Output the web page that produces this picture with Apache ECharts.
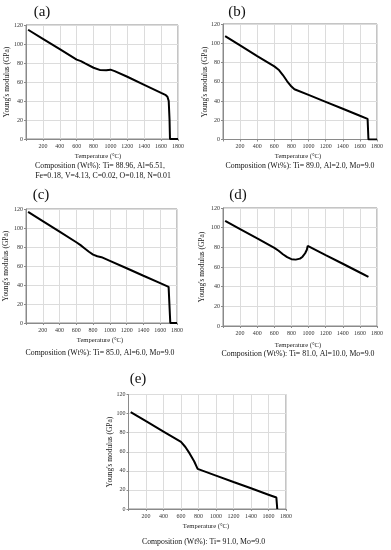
<!DOCTYPE html>
<html><head><meta charset="utf-8">
<script src="https://cdn.jsdelivr.net/npm/echarts@6/dist/echarts.min.js"></script>
<style>html,body{margin:0;padding:0;background:#fff}#c{width:391px;height:550px}</style>
</head><body><div id="c"></div>
<script>
// ---- data ----
const tempA = [25, 200, 400, 600, 650, 700, 800, 880, 950, 1000, 1050, 1200, 1400, 1600, 1650, 1675, 1690, 1700, 1705, 1800];
const modA  = [115, 105.5, 94.5, 83.5, 82, 79.5, 75, 72.5, 72.3, 73, 71.5, 65.5, 57, 48.5, 46.5, 44.5, 40, 20, 0, 0];

const tempB = [25, 200, 400, 600, 650, 700, 750, 800, 835, 1000, 1200, 1400, 1600, 1690, 1700, 1800];
const modB  = [107.5, 97.8, 86.7, 76, 72.5, 67, 60.5, 55, 52.2, 46.3, 39.1, 31.9, 24.7, 21.5, 0, 0];

const tempC = [25, 200, 400, 600, 650, 700, 750, 800, 850, 900, 1000, 1200, 1400, 1600, 1700, 1710, 1720, 1800];
const modC  = [117, 107.3, 96.2, 85, 82, 78.5, 75, 72, 70.3, 69.3, 65.4, 57.6, 49.7, 41.9, 38, 37, 0, 0];

const tempD = [25, 200, 400, 600, 650, 700, 750, 800, 850, 900, 930, 960, 980, 990, 1000, 1200, 1400, 1600, 1700];
const modD  = [107, 98.6, 89, 79.5, 76.5, 73, 70, 68, 67.5, 68.5, 70.5, 74, 77.5, 81.5, 81, 72.1, 63.3, 54.4, 50];

const tempE = [25, 200, 400, 600, 650, 700, 750, 790, 1000, 1200, 1400, 1600, 1690, 1700];
const modE  = [101.5, 92, 81.2, 70.3, 65, 58, 50, 42, 35, 28.3, 21.7, 15, 12, 0];

const panelLetters = ['(a)', '(b)', '(c)', '(d)', '(e)'];
const compositions = [
  ['Composition (Wt%): Ti= 88.96, Al=6.51,', 'Fe=0.18, V=4.13, C=0.02, O=0.18, N=0.01'],
  ['Composition (Wt%): Ti= 89.0, Al=2.0, Mo=9.0'],
  ['Composition (Wt%): Ti= 85.0, Al=6.0, Mo=9.0'],
  ['Composition (Wt%): Ti= 81.0, Al=10.0, Mo=9.0'],
  ['Composition (Wt%): Ti= 91.0, Mo=9.0']
];
const xName = 'Temperature (\u00B0C)';
const yName = "Young's modulus (GPa)";
const xMin = 0, xMax = 1800, xStep = 200;
const yMin = 0, yMax = 120, yStep = 20;

// ---- layout ----
const grids = [
  {left: 26, top: 25, right: 178, bottom: 139},
  {left: 223, top: 24, right: 377, bottom: 139.5},
  {left: 26, top: 209, right: 177, bottom: 323},
  {left: 223, top: 208, right: 377, bottom: 326},
  {left: 128.5, top: 394.5, right: 286, bottom: 509}
];
const letterPos = [[42, 12.5], [237, 12.5], [41, 195], [238, 195], [138, 379]];
const xNamePos = [[98, 156], [298, 156.5], [100, 340.5], [298, 345], [206, 526.5]];
const yNamePos = [[7, 82], [205, 82], [6, 266], [202, 267], [110, 452]];
const compPos = [[[100, 166], [103, 176]], [[300, 166]], [[100, 353]], [[298, 353.5]], [[203.5, 541.5]]];

const FONT = "'Liberation Serif','DejaVu Serif',serif";
const seriesData = [[tempA, modA], [tempB, modB], [tempC, modC], [tempD, modD], [tempE, modE]];

const option = {
  animation: false,
  backgroundColor: '#fff',
  grid: [], xAxis: [], yAxis: [], series: [], graphic: []
};

grids.forEach((g, i) => {
  option.grid.push({left: g.left, top: g.top, width: g.right - g.left, height: g.bottom - g.top,
    show: true, borderColor: '#8a8a8a', borderWidth: 1, containLabel: false});
  option.xAxis.push({type: 'value', gridIndex: i, min: xMin, max: xMax, interval: xStep,
    axisLine: {lineStyle: {color: '#8a8a8a', width: 1}},
    axisTick: {show: true, length: 2, lineStyle: {color: '#8a8a8a'}},
    splitLine: {show: true, lineStyle: {color: '#dcdcdc', width: 1}},
    axisLabel: {fontFamily: FONT, fontSize: 6, color: '#333', margin: 4,
      formatter: v => (v === 0 ? '' : String(v))}
  });
  option.yAxis.push({type: 'value', gridIndex: i, min: yMin, max: yMax, interval: yStep,
    axisLine: {show: true, lineStyle: {color: '#8a8a8a', width: 1}},
    axisTick: {show: true, length: 2, lineStyle: {color: '#8a8a8a'}},
    splitLine: {show: true, lineStyle: {color: '#dcdcdc', width: 1}},
    axisLabel: {fontFamily: FONT, fontSize: 6, color: '#333', margin: 3}
  });
  const [t, m] = seriesData[i];
  option.series.push({type: 'line', xAxisIndex: i, yAxisIndex: i, showSymbol: false,
    data: t.map((x, k) => [x, m[k]]), lineStyle: {color: '#000', width: 2}, silent: true});

  option.graphic.push({type: 'text', x: letterPos[i][0], y: letterPos[i][1],
    style: {text: panelLetters[i], font: '15px ' + FONT, fill: '#111', align: 'center', verticalAlign: 'middle'}});
  option.graphic.push({type: 'text', x: xNamePos[i][0], y: xNamePos[i][1],
    style: {text: xName, font: '6.6px ' + FONT, fill: '#222', align: 'center', verticalAlign: 'middle'}});
  option.graphic.push({type: 'text', x: yNamePos[i][0], y: yNamePos[i][1], rotation: Math.PI / 2,
    style: {text: yName, font: '7.4px ' + FONT, fill: '#222', align: 'center', verticalAlign: 'middle'}});
  compositions[i].forEach((line, k) => {
    option.graphic.push({type: 'text', x: compPos[i][k][0], y: compPos[i][k][1],
      style: {text: line, font: '7.8px ' + FONT, fill: '#111', align: 'center', verticalAlign: 'middle'}});
  });
});

const chart = echarts.init(document.getElementById('c'), null, {renderer: 'canvas'});
chart.setOption(option);
</script>
</body></html>
